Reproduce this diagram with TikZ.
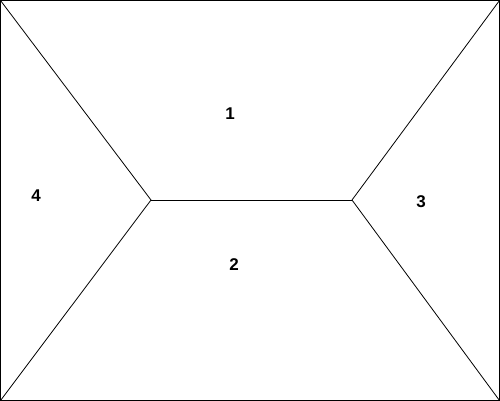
\documentclass[tikz,border=0pt]{standalone}
\usepackage{fontspec}
\setsansfont{Liberation Sans}
\usepackage{tikz}

\begin{document}
\begin{tikzpicture}[x=1pt, y=-1pt, every node/.style={font=\sffamily\bfseries\fontsize{17}{17}\selectfont}]
		%%%%% START %%%%%
		\useasboundingbox (0, 0) rectangle (500, 401);
		\draw[line width=0.8pt] (0.5, 0.5) rectangle (499.5, 400.5);
		
		\coordinate (innerL) at (151, 200);
		\coordinate (innerR) at (352, 200);
		
		\draw[line width=0.8pt] (0.5, 0.5) -- (innerL) -- (0.5, 400.5);
		\draw[line width=0.8pt] (499.5, 0.5) -- (innerR) -- (499.5, 400.5);
		\draw[line width=0.8pt] (innerL) -- (innerR);
		
		\node (sec1) at (230, 114) {1};
		\node (sec2) at (234, 265) {2};
		\node (sec3) at (421, 202) {3};
		\node (sec4) at (36, 196) {4};
		%%%%% END %%%%%
	\end{tikzpicture}
\end{document}
